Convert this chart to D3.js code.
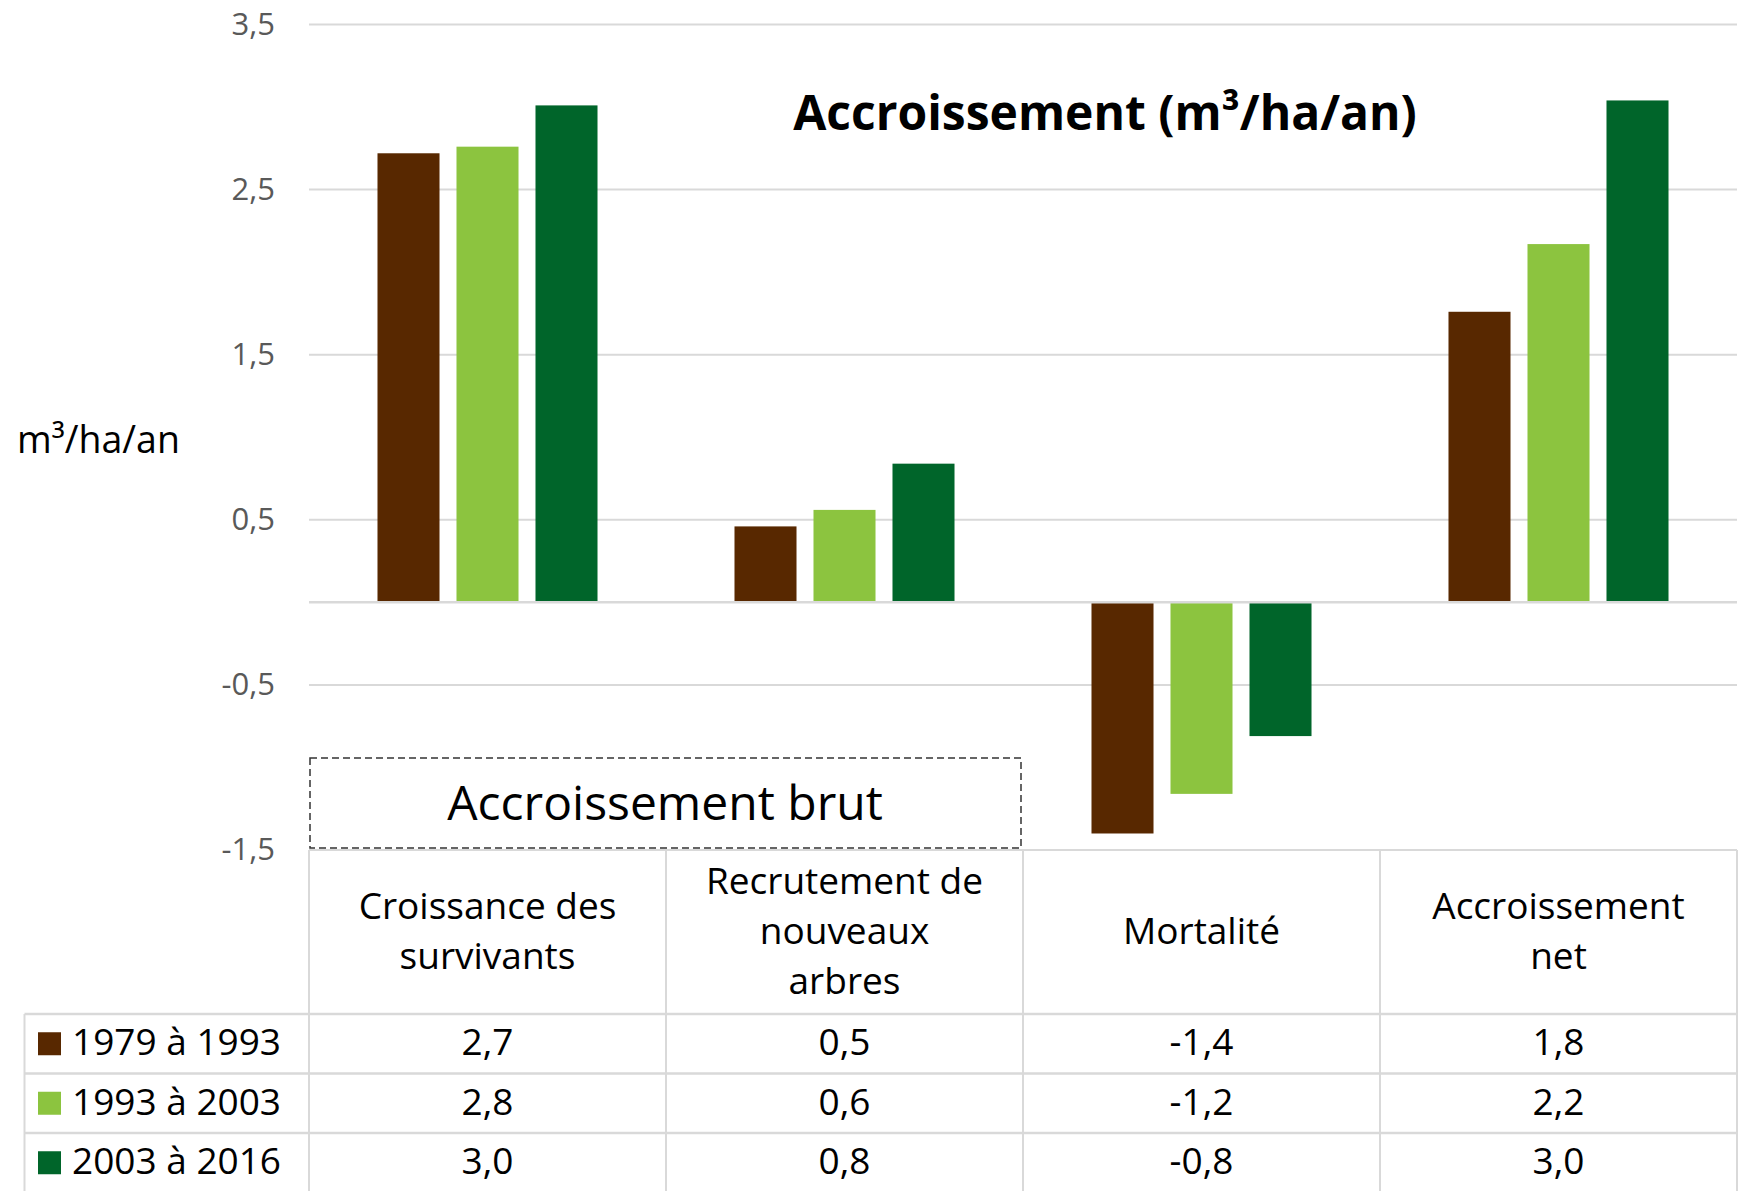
<!DOCTYPE html>
<html>
<head>
<meta charset="utf-8">
<script src="https://cdn.jsdelivr.net/npm/d3@7"></script>
<style>
  body { margin: 0; background: #fff; }
  svg { display: block; font-family: "Open Sans", sans-serif; }
</style>
</head>
<body>
<svg width="1749" height="1191"></svg>
<script>
// data
var categories = ["Croissance des survivants", "Recrutement de nouveaux arbres", "Mortalité", "Accroissement net"];
var categoryLines = [["Croissance des", "survivants"], ["Recrutement de", "nouveaux", "arbres"], ["Mortalité"], ["Accroissement", "net"]];
var seriesNames = ["1979 à 1993", "1993 à 2003", "2003 à 2016"];
var seriesColors = ["#582800", "#8cc43f", "#00652a"];
var values1979 = [2.72, 0.46, -1.40, 1.76];
var values1993 = [2.76, 0.56, -1.16, 2.17];
var values2003 = [3.01, 0.84, -0.81, 3.04];
var yTicks = [3.5, 2.5, 1.5, 0.5, -0.5, -1.5];

var allValues = [values1979, values1993, values2003];

var svg = d3.select("svg"),
    width = +svg.attr("width"),
    height = +svg.attr("height");

var plotLeft = 309, plotRight = 1737, plotTop = 24.5, plotBottom = 850;
var gridColor = "#d9d9d9";

var fr = d3.formatLocale({decimal: ",", thousands: " ", grouping: [3], currency: ["", "€"], minus: "-"});
var fmt = fr.format(".1f");

var x = d3.scaleBand().domain(categories).range([plotLeft, plotRight]).paddingInner(0).paddingOuter(0);
var xs = d3.scaleBand().domain(seriesNames).range([0, x.bandwidth()]).paddingInner(0.215).paddingOuter(0.867);
var y = d3.scaleLinear().domain([-1.5, 3.5]).range([plotBottom, plotTop]);

// gridlines
svg.append("g").selectAll("line")
  .data(yTicks)
  .enter().append("line")
  .attr("x1", plotLeft).attr("x2", plotRight)
  .attr("y1", d => y(d)).attr("y2", d => y(d))
  .style("stroke", gridColor).style("stroke-width", 2);

// y tick labels
svg.append("g").selectAll("text")
  .data(yTicks)
  .enter().append("text")
  .attr("x", 275).attr("y", d => y(d) - 2)
  .attr("text-anchor", "end")
  .attr("dominant-baseline", "central")
  .style("font-size", "31px").style("fill", "#595959")
  .text(d => fmt(d));

// bars
var bars = [];
categories.forEach(function(c, ci) {
  seriesNames.forEach(function(s, si) {
    bars.push({cat: c, series: s, si: si, v: allValues[si][ci]});
  });
});

svg.append("g").selectAll("rect")
  .data(bars)
  .enter().append("rect")
  .attr("x", d => x(d.cat) + xs(d.series))
  .attr("width", xs.bandwidth())
  .attr("y", d => y(Math.max(0, d.v)))
  .attr("height", d => Math.abs(y(d.v) - y(0)))
  .style("fill", d => seriesColors[d.si]);

// zero axis
svg.append("line")
  .attr("x1", plotLeft).attr("x2", plotRight)
  .attr("y1", y(0)).attr("y2", y(0))
  .style("stroke", gridColor).style("stroke-width", 2.5);

// title
svg.append("text")
  .attr("x", 1105).attr("y", 130)
  .attr("text-anchor", "middle")
  .style("font-size", "48px").style("font-weight", "bold")
  .text("Accroissement (m³/ha/an)");

// y axis title
svg.append("text")
  .attr("x", 17).attr("y", 453)
  .style("font-size", "37.5px")
  .text("m³/ha/an");

// dashed box
svg.append("rect")
  .attr("x", plotLeft + 1).attr("y", 758)
  .attr("width", 711).attr("height", 90)
  .style("fill", "none").style("stroke", "#333")
  .style("stroke-width", 1.5).style("stroke-dasharray", "7,4");

svg.append("text")
  .attr("x", 665).attr("y", 820)
  .attr("text-anchor", "middle")
  .style("font-size", "48px")
  .text("Accroissement brut");

// data table
var headTop = plotBottom, headBottom = 1014, rowH = 59.5, tableLeft = 24.5;
var rowY = seriesNames.map((s, i) => headBottom + i * rowH);
var tg = svg.append("g");

// vertical lines
var colEdges = categories.map(c => x(c)).concat([plotRight]);
tg.selectAll("line.v")
  .data(colEdges)
  .enter().append("line")
  .attr("class", "v")
  .attr("x1", d => d).attr("x2", d => d)
  .attr("y1", headTop).attr("y2", height)
  .style("stroke", gridColor).style("stroke-width", 2);

tg.append("line")
  .attr("x1", tableLeft).attr("x2", tableLeft)
  .attr("y1", headBottom).attr("y2", height)
  .style("stroke", gridColor).style("stroke-width", 2);

// horizontal row lines
tg.selectAll("line.h")
  .data(rowY)
  .enter().append("line")
  .attr("class", "h")
  .attr("x1", tableLeft).attr("x2", plotRight)
  .attr("y1", d => d).attr("y2", d => d)
  .style("stroke", gridColor).style("stroke-width", 2.5);

// header labels
var lineH = 50;
categories.forEach(function(c, ci) {
  var lines = categoryLines[ci];
  var mid = (headTop + headBottom) / 2 - 3;
  tg.append("text")
    .attr("x", x(c) + x.bandwidth() / 2)
    .attr("text-anchor", "middle")
    .style("font-size", "37px").style("fill", "#000")
    .selectAll("tspan")
    .data(lines)
    .enter().append("tspan")
    .attr("x", x(c) + x.bandwidth() / 2)
    .attr("y", (d, i) => mid + (i - (lines.length - 1) / 2) * lineH)
    .attr("dominant-baseline", "central")
    .text(d => d);
});

// legend column
seriesNames.forEach(function(s, si) {
  var mid = rowY[si] + rowH / 2;
  tg.append("rect")
    .attr("x", 38).attr("y", mid - 11.5)
    .attr("width", 23).attr("height", 23)
    .style("fill", seriesColors[si]);
  tg.append("text")
    .attr("x", 72).attr("y", mid - 3)
    .attr("dominant-baseline", "central")
    .style("font-size", "37px")
    .text(s);
  categories.forEach(function(c, ci) {
    tg.append("text")
      .attr("x", x(c) + x.bandwidth() / 2).attr("y", mid - 3)
      .attr("text-anchor", "middle")
      .attr("dominant-baseline", "central")
      .style("font-size", "37px")
      .text(fmt(allValues[si][ci]));
  });
});
</script>
</body>
</html>
